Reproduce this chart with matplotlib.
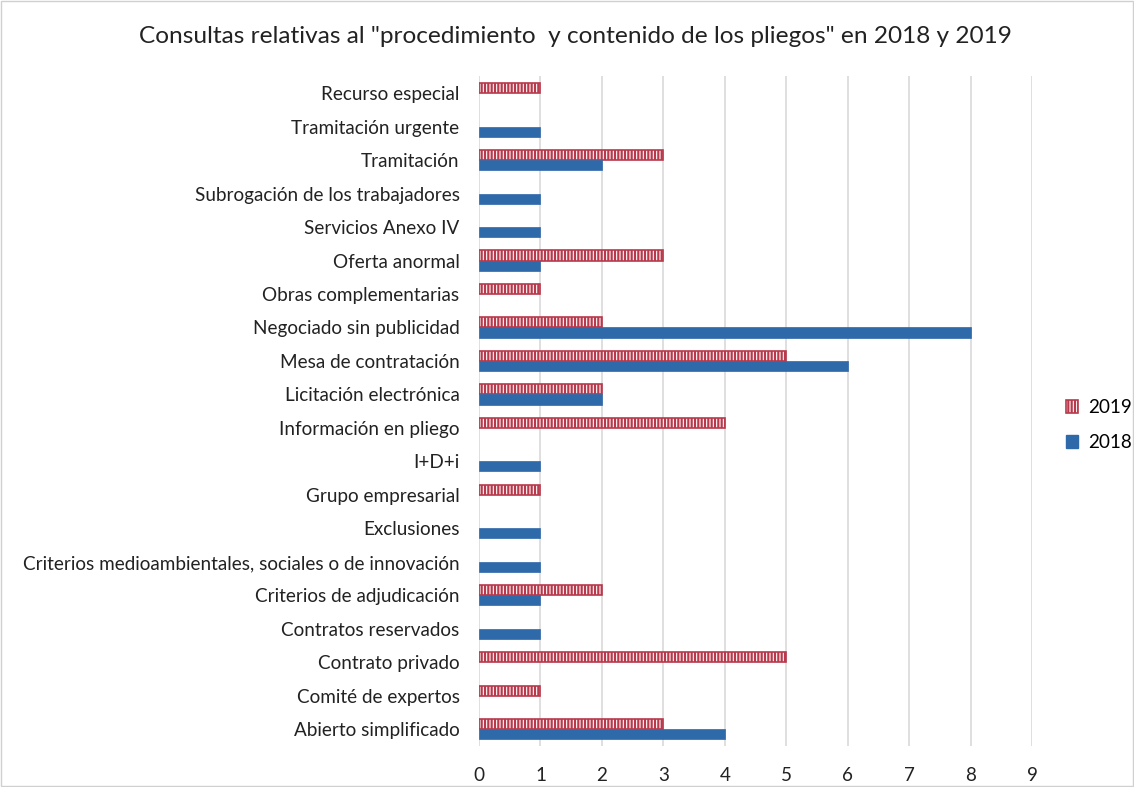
"""Consultas sobre procedimiento y pliegos, 2018 vs 2019"""
import numpy as np
import matplotlib
matplotlib.use("Agg")
import matplotlib.pyplot as plt
from matplotlib.patches import Rectangle, Patch

plt.rcParams["font.family"] = ["Lato", "DejaVu Sans"]
plt.rcParams["hatch.linewidth"] = 1.6

C_RED = "#B8394B"; C_BLUE = "#2E69AA"; C_GRID = "#D9D9D9"; C_TXT = "#222222"

temas = ["Recurso especial", "Tramitación urgente", "Tramitación",
         "Subrogación de los trabajadores", "Servicios Anexo IV", "Oferta anormal",
         "Obras complementarias", "Negociado sin publicidad", "Mesa de contratación",
         "Licitación electrónica", "Información en pliego", "I+D+i",
         "Grupo empresarial", "Exclusiones",
         "Criterios medioambientales, sociales o de innovación",
         "Criterios de adjudicación", "Contratos reservados", "Contrato privado",
         "Comité de expertos", "Abierto simplificado"]
v2019 = [1, 0, 3, 0, 0, 3, 1, 2, 5, 2, 4, 0, 1, 0, 0, 2, 0, 5, 1, 3]
v2018 = [0, 1, 2, 1, 1, 1, 0, 8, 6, 2, 0, 1, 0, 1, 1, 1, 1, 0, 0, 4]

fig = plt.figure(figsize=(11.34, 7.87), dpi=100)
ax = fig.add_axes([0.4224, 0.052, 0.4877, 0.851])

n = len(temas)
y = np.arange(n)[::-1]
h = 0.3
a19 = np.array(v2019); a18 = np.array(v2018)
m19 = a19 > 0; m18 = a18 > 0
ax.barh(y[m19] + h / 2, a19[m19], height=h, color="white", edgecolor=C_RED,
        hatch="|||||", linewidth=1.2, zorder=3)
ax.barh(y[m18] - h / 2, a18[m18], height=h, color=C_BLUE, edgecolor=C_BLUE,
        linewidth=0.5, zorder=3)

ax.set_xlim(0, 9)
ax.set_ylim(-0.5, n - 0.5)
ax.set_xticks(range(10))
ax.set_yticks(y)
ax.set_yticklabels(temas)
ax.xaxis.grid(True, color=C_GRID, linewidth=1.2, zorder=0)
ax.set_axisbelow(True)
for s in ax.spines.values():
    s.set_visible(False)
ax.tick_params(axis="both", length=0, labelsize=13.6, colors=C_TXT)
ax.tick_params(axis="y", pad=14)
ax.tick_params(axis="x", pad=15)

fig.suptitle('Consultas relativas al "procedimiento  y contenido de los pliegos" en 2018 y 2019',
             x=0.507, y=0.967, fontsize=17.6, color=C_TXT)

handles = [Patch(facecolor="white", edgecolor=C_RED, hatch="|||||", linewidth=1.2),
           Patch(facecolor=C_BLUE, edgecolor=C_BLUE)]
fig.legend(handles, ["2019", "2018"], loc="center left", bbox_to_anchor=(0.925, 0.46),
           frameon=False, fontsize=13.6, handlelength=0.65, handleheight=0.65,
           labelspacing=0.95, handletextpad=0.5)

fig.patches.append(Rectangle((0.001, 0.001), 0.998, 0.998, transform=fig.transFigure,
                             fill=False, edgecolor="#D0D0D0", linewidth=1))

fig.savefig("out.png", dpi=100)
